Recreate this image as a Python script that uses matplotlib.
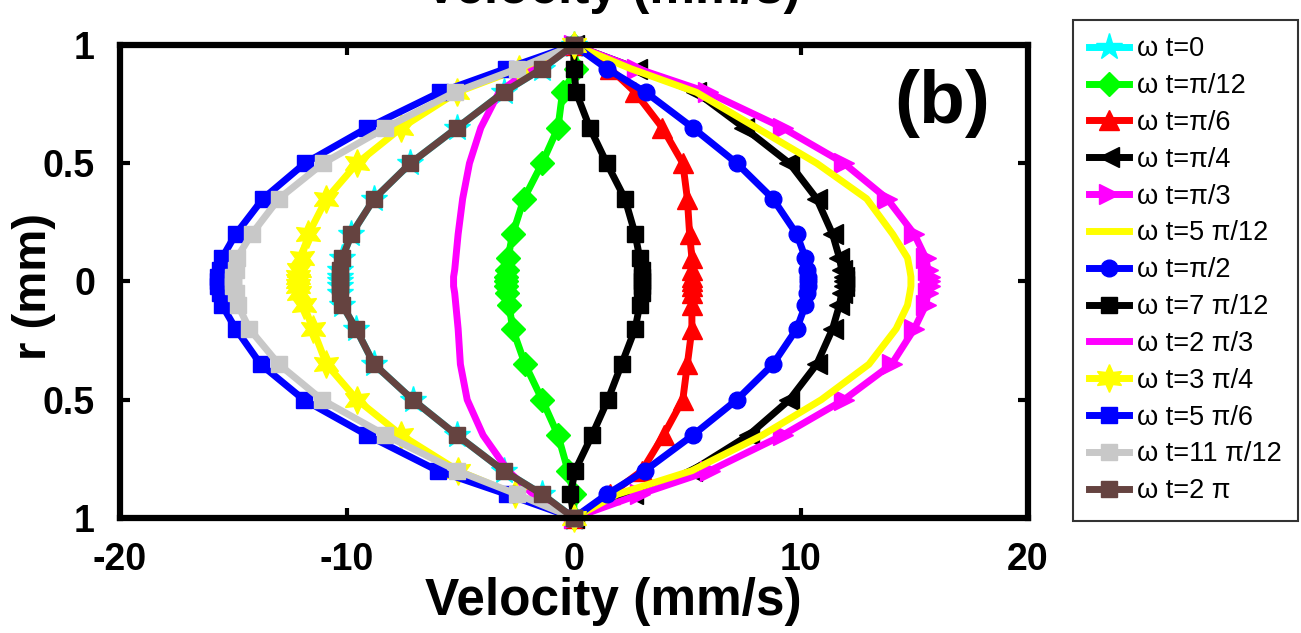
import matplotlib
matplotlib.use('Agg')
import matplotlib.pyplot as plt

plt.rcParams['font.family'] = ['Liberation Sans', 'DejaVu Sans']

# radial positions (mm), top to bottom
r = [1, 0.9, 0.8, 0.65, 0.5, 0.35, 0.2, 0.1, 0.05, 0.02, 0,
     -0.02, -0.05, -0.1, -0.2, -0.35, -0.5, -0.65, -0.8, -0.9, -1]

# velocity profiles (mm/s)
v_0 = [0, -1.4, -3.1, -5.15, -7.2, -8.8, -9.8, -10.2, -10.3, -10.3, -10.3,
       -10.3, -10.3, -10.2, -9.6, -8.8, -7.1, -5.15, -3.1, -1.4, 0]
v_pi12 = [0, 0.1, -0.5, -0.7, -1.4, -2.2, -2.7, -2.9, -2.95, -3.0, -3.0,
          -3.0, -2.95, -2.85, -2.7, -2.15, -1.4, -0.7, -0.26, 0.0, 0]
v_pi6 = [0, 1.6, 2.7, 3.9, 4.8, 5.0, 5.1, 5.2, 5.2, 5.2, 5.2,
         5.2, 5.2, 5.2, 5.2, 5.0, 4.8, 3.95, 3.0, 1.6, 0]
v_pi4 = [0, 2.8, 5.4, 7.5, 9.5, 10.7, 11.4, 11.7, 11.8, 11.9, 11.9,
         11.9, 11.8, 11.7, 11.4, 10.7, 9.5, 7.7, 5.2, 2.6, 0]
v_pi3 = [0, 2.8, 5.9, 9.2, 11.9, 13.8, 15.0, 15.5, 15.6, 15.7, 15.7,
         15.7, 15.6, 15.5, 15.0, 14.0, 11.9, 9.2, 6.0, 2.9, 0]
v_5pi12 = [0, 2.5, 5.4, 8.05, 10.7, 12.9, 14.05, 14.7, 14.8, 14.85, 14.85,
           14.85, 14.8, 14.7, 14.2, 13.0, 10.9, 8.3, 5.2, 1.9, 0]
v_pi2 = [0, 1.45, 3.17, 5.24, 7.18, 8.77, 9.82, 10.2, 10.25, 10.3, 10.3,
         10.3, 10.25, 10.2, 9.82, 8.77, 7.18, 5.24, 3.13, 1.45, 0]
v_7pi12 = [0, 0.0, 0.1, 0.7, 1.45, 2.25, 2.7, 2.9, 3.0, 3.0, 3.0,
           3.0, 3.0, 2.9, 2.7, 2.1, 1.5, 0.8, 0.05, -0.15, 0]
v_2pi3 = [0, -1.9, -3.3, -4.1, -4.6, -4.9, -5.1, -5.2, -5.25, -5.3, -5.3,
          -5.3, -5.25, -5.2, -5.1, -5.0, -4.7, -4.0, -2.9, -1.8, 0]
v_3pi4 = [0, -2.4, -5.15, -7.6, -9.55, -10.9, -11.7, -12.0, -12.1, -12.15, -12.15,
          -12.15, -12.1, -11.9, -11.5, -10.9, -9.55, -7.6, -5.1, -2.6, 0]
v_5pi6 = [0, -3.0, -5.9, -9.1, -11.85, -13.7, -14.9, -15.5, -15.6, -15.7, -15.7,
          -15.7, -15.6, -15.5, -14.9, -13.8, -11.9, -9.1, -6.0, -2.95, 0]
v_11pi12 = [0, -2.5, -5.25, -8.3, -11.05, -13.0, -14.2, -14.85, -14.9, -15.0, -15.0,
            -15.0, -14.9, -14.8, -14.3, -13.0, -11.1, -8.3, -5.15, -2.5, 0]
v_2pi = [0, -1.4, -3.1, -5.15, -7.2, -8.8, -9.8, -10.2, -10.3, -10.3, -10.3,
         -10.3, -10.3, -10.2, -9.6, -8.8, -7.1, -5.15, -3.1, -1.4, 0]

labels = ['ω t=0', 'ω t=π/12', 'ω t=π/6', 'ω t=π/4', 'ω t=π/3', 'ω t=5 π/12',
          'ω t=π/2', 'ω t=7 π/12', 'ω t=2 π/3', 'ω t=3 π/4', 'ω t=5 π/6',
          'ω t=11 π/12', 'ω t=2 π']
series = [v_0, v_pi12, v_pi6, v_pi4, v_pi3, v_5pi12, v_pi2, v_7pi12,
          v_2pi3, v_3pi4, v_5pi6, v_11pi12, v_2pi]
colors = ['#00FFFF', '#00FF00', '#FF0000', '#000000', '#FF00FF', '#FFFF00',
          '#0000FF', '#000000', '#FF00FF', '#FFFF00', '#0000FF', '#C8C8C8', '#654340']
markers = ['*', 'D', '^', '<', '>', None, 'o', 's', None, (6, 1, 0), 's', 's', 's']
msizes = [20, 12, 14, 14, 14, 0, 12, 11, 0, 20, 11, 11, 11]

fig = plt.figure(figsize=(13.01, 6.33), dpi=100)
ax = fig.add_axes([0.0922, 0.1817, 0.6978, 0.7472])

for v, lab, c, m, ms in zip(series, labels, colors, markers, msizes):
    ax.plot(v, r, color=c, marker=m, markersize=ms, lw=5, label=lab,
            markeredgecolor=c, clip_on=False)

ax.set_xlim(-20, 20)
ax.set_ylim(-1, 1)
ax.set_xticks([-20, -10, 0, 10, 20])
ax.set_xticklabels(['-20', '-10', '0', '10', '20'])
ax.set_yticks([-1, -0.5, 0, 0.5, 1])
ax.set_yticklabels(['1', '0.5', '0', '0.5', '1'])
ax.tick_params(direction='in', top=True, right=True, length=7, width=3,
               labelsize=27)
ax.tick_params(axis='x', pad=17)
ax.tick_params(axis='y', pad=18)
for lab in ax.get_xticklabels() + ax.get_yticklabels():
    lab.set_fontweight('bold')
for s in ax.spines.values():
    s.set_linewidth(4.5)

ax.set_xlabel('Velocity (mm/s)', fontsize=37, fontweight='bold')
ax.xaxis.set_label_coords(0.543, -0.125)
ax.set_ylabel('r (mm)', fontsize=34, fontweight='bold')
ax.yaxis.set_label_coords(-0.07, 0.49)
fig.text(0.471, 1 - 3 / 633, 'Velocity (mm/s)', fontsize=37, fontweight='bold',
         ha='center', va='baseline')
ax.text(0.906, 0.877, '(b)', transform=ax.transAxes, fontsize=54,
        fontweight='bold', ha='center', va='center')

leg = fig.legend(loc='upper left', bbox_to_anchor=(0.8248, 1 - 20 / 633),
                 bbox_transform=fig.transFigure, fontsize=19.5, frameon=True,
                 fancybox=False, edgecolor='black', handlelength=1.45,
                 labelspacing=0.4, borderpad=0.6, handletextpad=0.3,
                 borderaxespad=0)
leg.get_frame().set_linewidth(1.5)

fig.savefig('out.png', dpi=100)
